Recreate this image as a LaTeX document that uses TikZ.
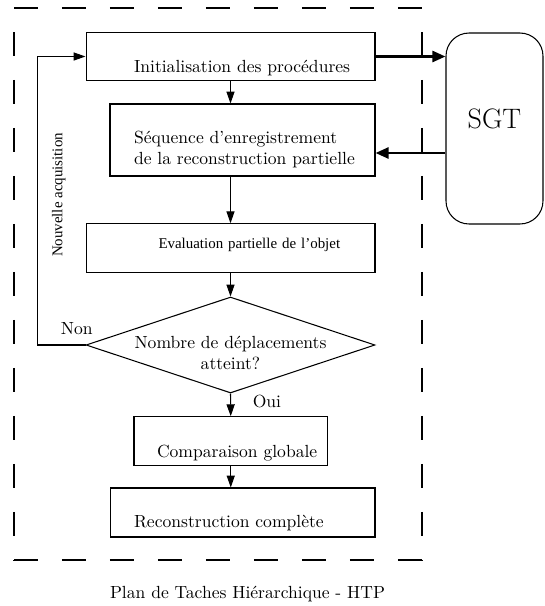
\documentclass[tikz,border=0pt]{standalone}
\usepackage{fontspec}
\newfontfamily\timesfont{Liberation Serif}
\usetikzlibrary{shapes.geometric,arrows.meta}

\begin{document}
\begin{tikzpicture}[x=0.02cm, y=-0.02cm,
  box/.style={draw, semithick, inner sep=0pt, align=left, minimum height=0.97cm},
  indent/.style={execute at begin node={\leftskip=#1}},
  decision/.style={diamond, draw, semithick, inner sep=0pt, minimum width=5.78cm, minimum height=1.92cm},
  arr/.style={semithick, -{Triangle[length=6.8pt,width=4.6pt]}},
  bigarr/.style={line width=1.5pt, -{Triangle[length=7.4pt,width=6.2pt]}},
  frame/.style={line width=0.7pt, dash pattern=on 0.48cm off 0.48cm},
  small/.style={font=\timesfont\fontsize{8.5}{10}\selectfont}]
\useasboundingbox (0,0) rectangle (545,606);

\draw[frame] (14,8) -- (422,8);
\draw[frame] (14,560) -- (422,560);
\draw[frame, dash phase=0.48cm] (14,8) -- (14,560);
\draw[frame, dash phase=0.48cm] (422,8) -- (422,560);

\node[box, text width=5.78cm, indent=0.96cm, text height=0.62cm, text depth=0pt] (i) at (230.5,56.5) {Initialisation des procédures};
\node[box, text width=5.3cm, indent=0.48cm, minimum height=1.44cm] (s) at (242.5,140) {\rule{0pt}{0.61cm}Séquence d’enregistrement\\de la reconstruction partielle};
\node[box, small, text width=5.78cm, indent=1.45cm, text height=0.15cm, text depth=0.15cm] (e) at (230.5,248) {Evaluation partielle de l’objet};
\node[decision] (n) at (230.5,345) {\raisebox{-0.06cm}[0pt][0pt]{\makebox[0pt]{\begin{tabular}[t]{@{}c@{}}Nombre de déplacements\\atteint?\end{tabular}}}};
\node[box, text width=3.87cm, indent=0.46cm, text height=0.64cm, text depth=0pt] (c) at (230.75,441) {Comparaison globale};
\node[box, text width=5.29cm, indent=0.47cm, minimum height=0.98cm, text height=0.58cm, text depth=0pt] (r) at (242.75,512.5) {Reconstruction complète};
\node[draw, semithick, rounded corners=0.46cm, minimum width=1.94cm, minimum height=3.82cm, text height=0.3cm, text depth=0.3cm, font=\fontsize{16}{19}\selectfont] (g) at (494.5,128.5) {SGT};
\node[anchor=base] (t) at (247.5,598) {Plan de Taches Hiérarchique - HTP};

\draw[arr] (i.south) -- (i.south |- s.north);
\draw[arr] (i.south |- s.south) -- (e.north);
\draw[arr] (e.south) -- (n.north);
\draw[arr] (n.south) -- node[pos=0.35, right=9pt] {Oui} (c.north);
\draw[arr] (c.south) -- (c.south |- r.north);
\draw[arr] (n.west) -- node[pos=0.18, above=2.4pt] {Non} ++(-48,0)
  |- node[pos=0.26, rotate=90, anchor=north, inner ysep=8pt, small] {Nouvelle acquisition} (i.west);

\coordinate (q) at ([yshift=-0.26cm]s.east);
\draw[bigarr] (i.east) -- (i.east -| g.west);
\draw[bigarr] (q -| g.west) -- (q);
\end{tikzpicture}
\end{document}
